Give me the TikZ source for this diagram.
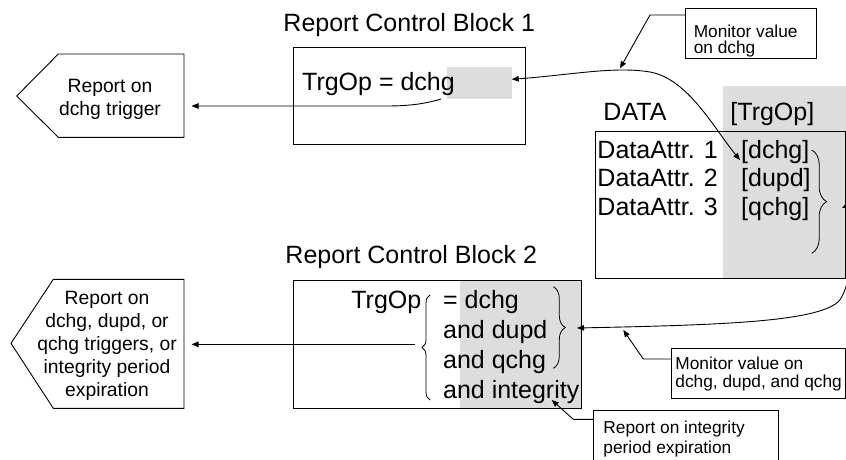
\documentclass[tikz,border=0pt]{standalone}
\usepackage{fontspec}
\setmainfont{Liberation Sans}
\usetikzlibrary{arrows.meta,decorations.pathreplacing}
\definecolor{shade}{HTML}{DDDDDD}
\begin{document}
\begin{tikzpicture}[x=1pt,y=-1pt,line width=0.9pt,
  bigtxt/.style={font=\fontsize{25}{30}\selectfont, inner sep=0pt},
  midtxt/.style={font=\fontsize{19.3}{22.9}\selectfont, inner sep=0pt, align=center},
  smalltxt/.style={font=\fontsize{17.3}{#1}\selectfont, inner sep=0pt, align=left, anchor=west},
  boxnode/.style={draw=black, inner sep=0pt, outer sep=0pt, anchor=north west},
  graynode/.style={fill=shade, draw=none, inner sep=0pt, outer sep=0pt, anchor=north west},
  calloutbox/.style={draw=black, fill=white, inner sep=0pt, outer sep=0pt, anchor=north west},
  tip/.style={-{Triangle[length=7pt,width=5.5pt]}},
  dtip/.style={{Triangle[length=7pt,width=5.5pt]}-{Triangle[length=7pt,width=5.5pt]}},
  curly/.style={decorate, decoration={brace, amplitude=#1}, line width=0.8pt},
]
\useasboundingbox (0,0) rectangle (846,459);
\clip (0,0) rectangle (846,459);

% ---------- Report Control Block 1 ----------
\node[bigtxt, anchor=base west] (title1) at (283,31.7) {Report Control Block 1};
\node[graynode, minimum width=64.7pt, minimum height=32.6pt] (gray1) at (447.3,66.7) {};
\node[boxnode, minimum width=231.7pt, minimum height=96.3pt] (rcb1) at (293.3,47.7) {};
\node[bigtxt, anchor=base west] (trg1) at (301.7,90) {TrgOp = dchg};

% pentagon 1
\draw (16.7,96) -- (58.3,54) -- (184,54) -- (184,137.3) -- (58.3,137.3) -- cycle;
\node[midtxt] (rep1) at (110,99) {Report on\\dchg trigger};
\coordinate (rep1in) at (191.5,106);
\coordinate (rcb1out) at (441,99);
\draw[tip] (rcb1out) .. controls (420,105.5) and (400,106) .. (385,106) -- (rep1in);

% ---------- DATA ----------
\node[graynode, minimum width=123.3pt, minimum height=192.3pt] (gray3) at (722.7,86) {};
\node[boxnode, minimum width=250.3pt, minimum height=147.3pt] (data) at (595,131) {};
\node[bigtxt, anchor=base west] (datat) at (603,120) {DATA};
\node[bigtxt, anchor=base west] (trgopt) at (730,120) {[TrgOp]};
\node[bigtxt, anchor=base west] (da1) at (597,158.3) {DataAttr. 1};
\node[bigtxt, anchor=base west] (da2) at (597,186.7) {DataAttr. 2};
\node[bigtxt, anchor=base west] (da3) at (597,215) {DataAttr. 3};
\node[bigtxt, anchor=base west] (v1) at (740.7,158.3) {[dchg]};
\node[bigtxt, anchor=base west] (v2) at (740.7,186.7) {[dupd]};
\node[bigtxt, anchor=base west] (v3) at (740.7,215) {[qchg]};
\draw[curly=15] (811.7,150) -- (811.7,253.3);

% upper monitor curve
\coordinate (g1in) at (511.7,79.3);
\coordinate (v1in) at (740,160);
\draw[dtip] (g1in) .. controls (570,75) and (615,66) .. (650,72)
  .. controls (688,79) and (713,127) .. (v1in);

% callout 1
\node[calloutbox, minimum width=131.7pt, minimum height=50pt] (call1) at (685,8.3) {};
\node[smalltxt=16.5] (call1t) at (693.3,41.2) {Monitor value\\on dchg};
\coordinate (call1tip) at (620,68.3);
\draw[tip] (call1.west |- 0,15) -- (650,15) -- (call1tip);

% ---------- Report Control Block 2 ----------
\node[bigtxt, anchor=base west] (title2) at (285,263.3) {Report Control Block 2};
\node[graynode, minimum width=121.7pt, minimum height=128.3pt] (gray2) at (460,280) {};
\node[boxnode, minimum width=288.4pt, minimum height=128.3pt] (rcb2) at (293.3,280) {};
\node[bigtxt, anchor=base east] (trg2) at (421.7,308.3) {TrgOp};
\node[bigtxt, anchor=base west] (l1) at (442.7,308.3) {= dchg};
\node[bigtxt, anchor=base west] (l2) at (442.7,338.3) {and dupd};
\node[bigtxt, anchor=base west] (l3) at (442.7,368.3) {and qchg};
\node[bigtxt, anchor=base west] (l4) at (442.7,398.3) {and integrity};
\draw[curly=8] (430,400) -- (430,295);
\draw[curly=12] (553.3,286.7) -- (553.3,368.3);

% pentagon 2
\draw (11,343.3) -- (53.3,279.3) -- (184,279.3) -- (184,408.3) -- (53.3,408.3) -- cycle;
\node[midtxt] (rep2) at (107,346) {Report on\\dchg, dupd, or\\qchg triggers, or\\integrity period\\expiration};
\coordinate (rep2in) at (191.5,344.3);
\coordinate (rcb2out) at (415,344.3);
\draw[tip] (rcb2out) -- (rep2in);

% lower monitor curve
\coordinate (b2in) at (577,328);
\coordinate (datain) at (842,208);
\draw[dtip] (b2in) .. controls (720,325) and (815,322) .. (838,302)
  .. controls (852,290) and (866,196) .. (datain);

% callout 2
\node[calloutbox, minimum width=173.3pt, minimum height=50pt] (call2) at (671.7,348.3) {};
\node[smalltxt=18.4] (call2t) at (675,374.1) {Monitor value on\\dchg, dupd, and qchg};
\coordinate (call2tip) at (623.3,330);
\draw[tip] (call2.west |- 0,359) -- (643.3,359) -- (call2tip);

% callout 3
\node[calloutbox, minimum width=185pt, minimum height=60pt] (call3) at (593.3,410) {};
\node[smalltxt=20] (call3t) at (603,438.9) {Report on integrity\\period expiration};
\coordinate (call3tip) at (551.7,400);
\draw[tip] (call3.west |- 0,419.3) -- (573.3,419.3) -- (call3tip);
\end{tikzpicture}
\end{document}
